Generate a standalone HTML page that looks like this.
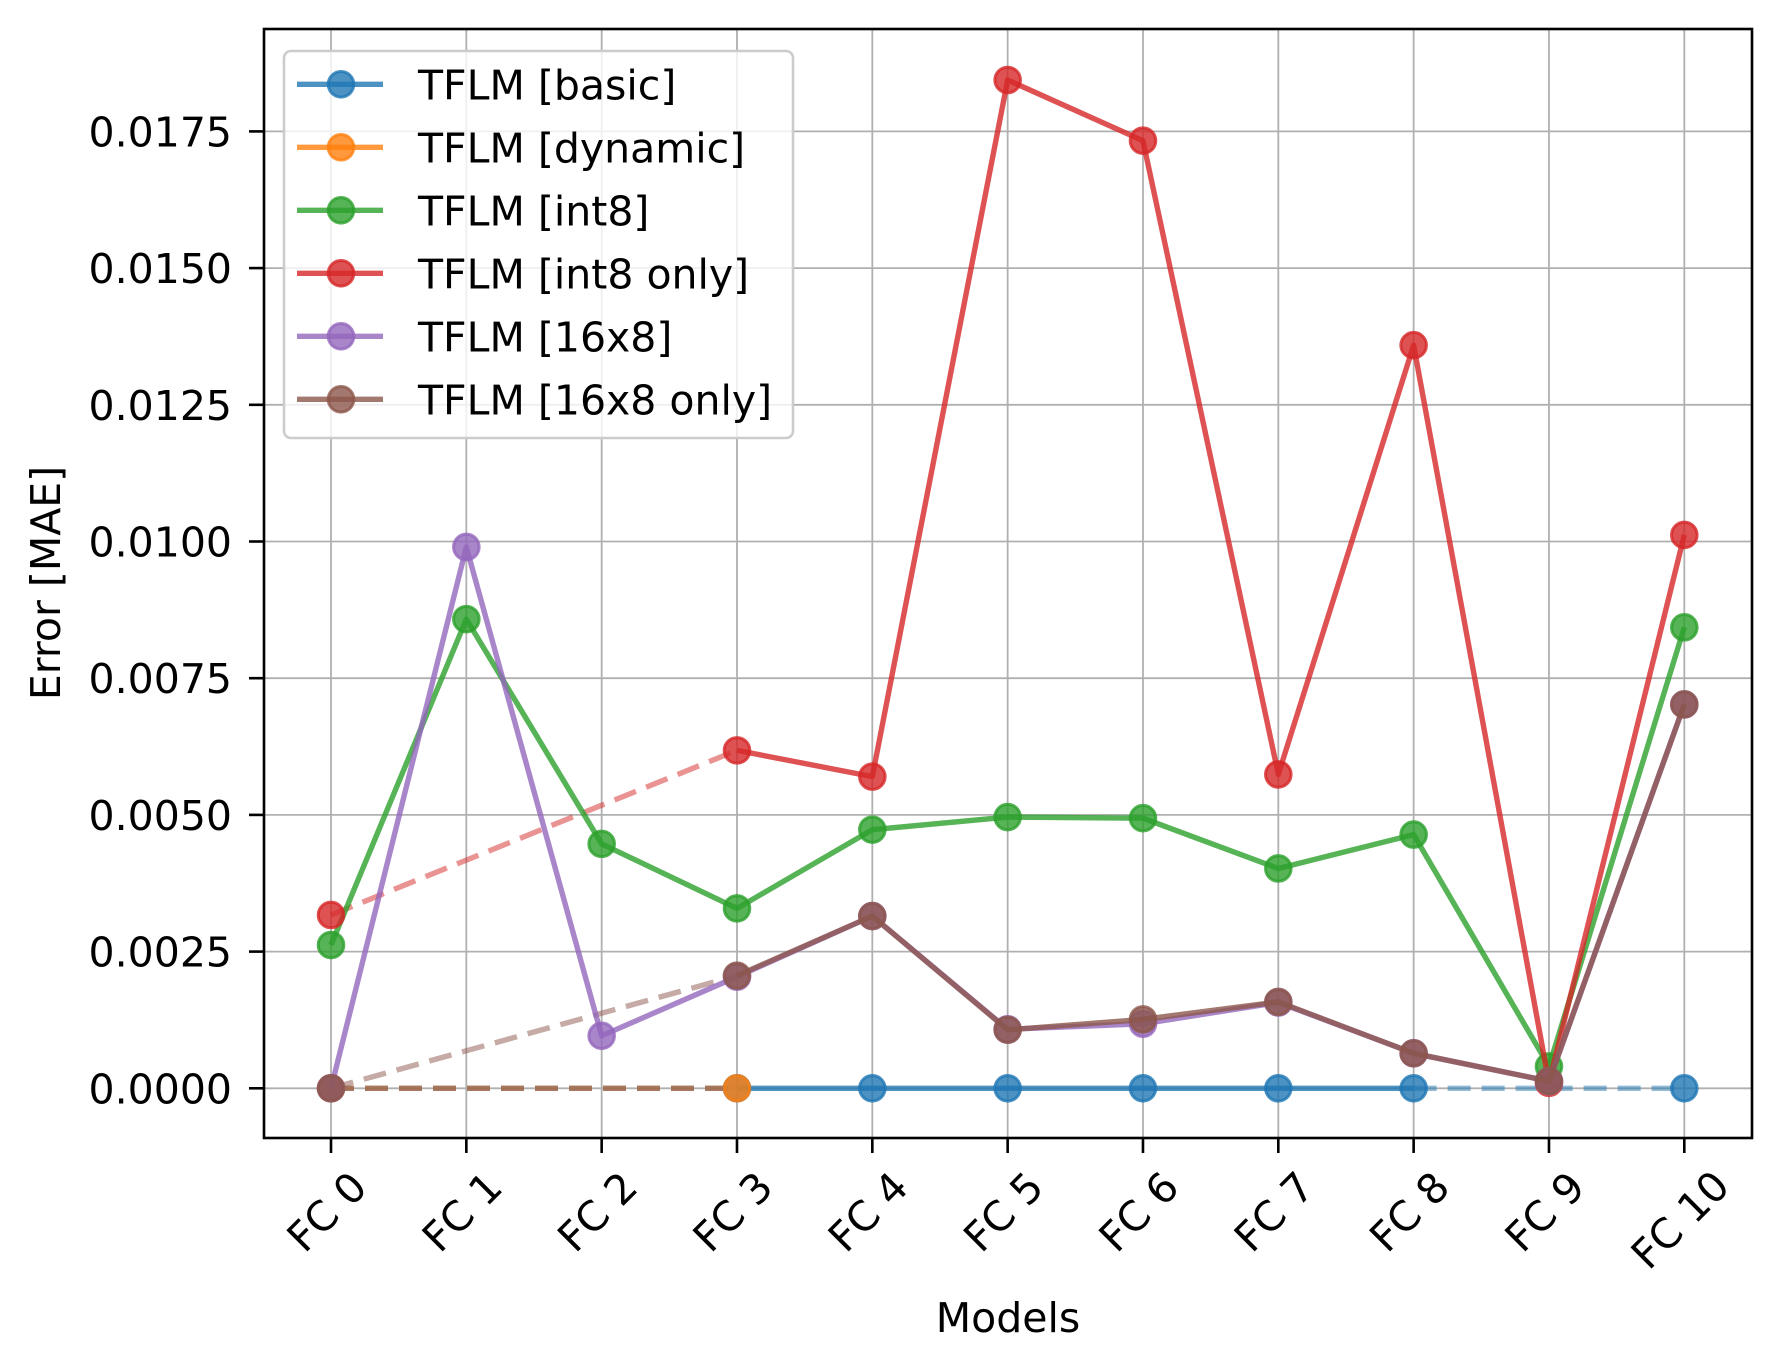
<!DOCTYPE html>
<html><head><meta charset="utf-8"><style>
html,body{margin:0;padding:0;background:#fff;}
svg{display:block;font-family:"DejaVu Sans","Liberation Sans",sans-serif;}
</style></head><body>
<svg id="c" width="1781" height="1370" xmlns="http://www.w3.org/2000/svg"></svg>
<script>
const S=document.getElementById('c');
const X=i=>331+i*135.33, Y=v=>1088.3-v/0.0025*136.7;
let h='';
for(let i=0;i<=10;i++) h+=`<line x1="${X(i)}" y1="29" x2="${X(i)}" y2="1138" stroke="#b0b0b0" stroke-width="1.8"/>`;
const yt=['0.0000','0.0025','0.0050','0.0075','0.0100','0.0125','0.0150','0.0175'];
yt.forEach((t,k)=>{const y=Y(k*0.0025);h+=`<line x1="264" y1="${y}" x2="1752" y2="${y}" stroke="#b0b0b0" stroke-width="1.8"/>`;});
const C={b:'#1f77b4',o:'#ff7f0e',g:'#2ca02c',r:'#d62728',p:'#9467bd',br:'#8c564b'};
function line(pts,c,dash,al){h+=`<polyline points="${pts.map(p=>X(p[0])+','+Y(p[1])).join(' ')}" fill="none" stroke="${c}" stroke-width="5.4" stroke-opacity="${al}" ${dash?'stroke-dasharray="23,11"':''} stroke-linejoin="round"/>`;}
function mk(pts,c){pts.forEach(p=>h+=`<circle cx="${X(p[0])}" cy="${Y(p[1])}" r="12.8" fill="${c}" fill-opacity="0.8" stroke="${c}" stroke-opacity="0.8" stroke-width="3"/>`);}
line([[0,0],[3,0]],C.b,1,0.5);
line([[8,0],[10,0]],C.b,1,0.5);
line([[0,0],[3,0]],C.o,1,0.5);
line([[0,0.00317],[3,0.00618]],C.r,1,0.5);
line([[0,0],[3,0.00206]],C.br,1,0.5);
line([[0,0],[3,0]],C.br,1,0.5);
const blue=[[3,0],[4,0],[5,0],[6,0],[7,0],[8,0]];
line(blue,C.b,0,0.8);mk(blue.concat([[10,0]]),C.b);
mk([[0,0],[3,0]],C.o);
const g=[0.00262,0.00858,0.00447,0.00329,0.00473,0.00496,0.00494,0.00402,0.00464,0.0004,0.00843].map((v,i)=>[i,v]);
line(g,C.g,0,0.8);mk(g,C.g);
const r=[[3,0.00618],[4,0.0057],[5,0.01844],[6,0.01733],[7,0.00574],[8,0.01359],[9,0.0001],[10,0.01012]];
line(r,C.r,0,0.8);mk([[0,0.00317]].concat(r),C.r);
const p=[0,0.0099,0.00096,0.00204,0.00315,0.00108,0.00118,0.00157,0.00064,0.00013,0.00702].map((v,i)=>[i,v]);
line(p,C.p,0,0.8);mk(p,C.p);
const br=[[3,0.00206],[4,0.00315],[5,0.00107],[6,0.00126],[7,0.00158],[8,0.00064],[9,0.00013],[10,0.00702]];
line(br,C.br,0,0.8);mk([[0,0]].concat(br),C.br);
h+=`<rect x="264" y="29" width="1488" height="1109" fill="none" stroke="#000" stroke-width="2.6"/>`;
yt.forEach((t,k)=>{const y=Y(k*0.0025);h+=`<line x1="249" y1="${y}" x2="264" y2="${y}" stroke="#000" stroke-width="2.6"/><text x="232" y="${y+15}" font-size="41" text-anchor="end">${t}</text>`;});
for(let i=0;i<=10;i++){const x=X(i);h+=`<line x1="${x}" y1="1138" x2="${x}" y2="1153" stroke="#000" stroke-width="2.6"/><text x="0" y="0" font-size="41" text-anchor="middle" dominant-baseline="central" transform="translate(${x-4},${1212+(i==10?8:0)}) rotate(-45)">FC ${i}</text>`;}
h+=`<text x="1008" y="1332" font-size="41" text-anchor="middle">Models</text>`;
h+=`<text x="0" y="0" font-size="41" text-anchor="middle" transform="translate(60,583) rotate(-90)">Error [MAE]</text>`;
h+=`<rect x="284" y="51" width="509" height="387" rx="7" fill="#fff" fill-opacity="0.8" stroke="#cccccc" stroke-width="2.6"/>`;
const L=[['TFLM [basic]',C.b],['TFLM [dynamic]',C.o],['TFLM [int8]',C.g],['TFLM [int8 only]',C.r],['TFLM [16x8]',C.p],['TFLM [16x8 only]',C.br]];
L.forEach((l,k)=>{const y=84.3+k*63;h+=`<line x1="297" y1="${y}" x2="383" y2="${y}" stroke="${l[1]}" stroke-opacity="0.8" stroke-width="5.4"/><circle cx="341" cy="${y}" r="12.8" fill="${l[1]}" fill-opacity="0.8" stroke="${l[1]}" stroke-opacity="0.8" stroke-width="3"/><text x="418" y="${y+15}" font-size="41">${l[0]}</text>`;});
S.innerHTML=h;
</script>
</body></html>
